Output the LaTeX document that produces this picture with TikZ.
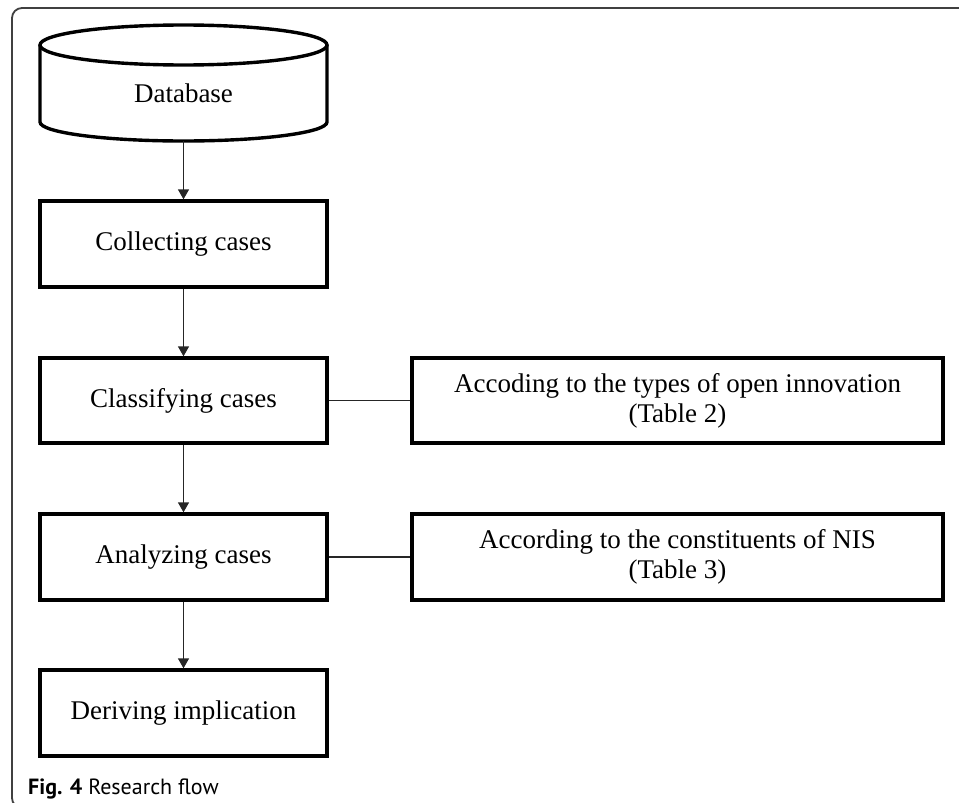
\documentclass[tikz,border=0pt]{standalone}
\usepackage{fontspec}
\setmainfont{Liberation Serif}
\newfontfamily\capfont{PT Sans}
\usetikzlibrary{arrows.meta}
\begin{document}
\begin{tikzpicture}[x=1pt,y=-1pt,
    flowbox/.style={draw,line width=3.4pt,minimum width=287pt,
          minimum height=86pt,font=\fontsize{27}{30}\selectfont},
    notebox/.style={flowbox,minimum width=531pt,align=center},
    flowarrow/.style={-{Triangle[width=11pt,length=10pt]},
          line width=1.5pt,draw=black!85},
    linkline/.style={line width=1.5pt,draw=black!85}]
    \useasboundingbox (0,0) rectangle (959,803);
    % outer frame
    \draw[line width=1.8pt,draw=black!75,rounded corners=10pt]
          (962,8) -- (12,8) -- (12,808) -- (40,808);
    % database cylinder
    \draw[line width=3.4pt] (183.5,45) ellipse[x radius=143.5,y radius=20];
    \draw[line width=3.4pt] (40,45) -- (40,122)
          arc[start angle=180,end angle=0,x radius=143.5,y radius=19]
          -- (327,45);
    \node[font=\fontsize{27}{30}\selectfont] (db) at (183.5,93) {Database};
    \coordinate (dbbot) at (183.5,141);
    % main flow
    \node[flowbox] (coll) at (183.5,244) {Collecting cases};
    \node[flowbox,minimum height=85pt] (cls) at (183.5,400.5) {Classifying cases};
    \node[flowbox] (ana) at (183.5,557) {Analyzing cases};
    \node[flowbox] (der) at (183.5,713) {Deriving implication};
    % side notes
    \node[notebox,minimum height=85pt] (typ) at (677.5,400.5)
          {Accoding to the types of open innovation\\(Table 2)};
    \node[notebox] (nis) at (677.5,557)
          {According to the constituents of NIS\\(Table 3)};
    \draw[flowarrow] (dbbot) -- (coll);
    \draw[flowarrow] (coll) -- (cls);
    \draw[flowarrow] (cls) -- (ana);
    \draw[flowarrow] (ana) -- (der);
    \draw[linkline] (cls) -- (typ);
    \draw[linkline] (ana) -- (nis);
    % caption
    \node[anchor=base west,inner sep=0pt,
          font=\capfont\fontsize{22}{25}\selectfont] (cap) at (28,794)
          {\textbf{Fig. 4} Research flow};
\end{tikzpicture}
\end{document}
